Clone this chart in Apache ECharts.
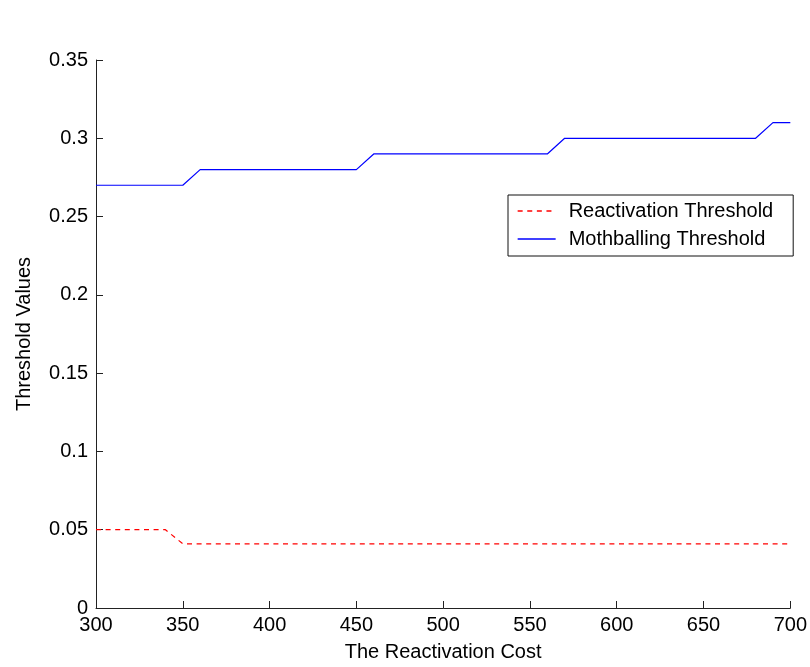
<!DOCTYPE html>
<html><head><meta charset="utf-8">
<script src="https://cdn.jsdelivr.net/npm/echarts@6/dist/echarts.min.js"></script>
<style>html,body{margin:0;padding:0;background:#fff}#c{width:810px;height:667px}</style>
</head><body><div id="c"></div>
<script>
const costs = [300,310,320,330,340,350,360,370,380,390,400,410,420,430,440,450,460,470,480,490,500,510,520,530,540,550,560,570,580,590,600,610,620,630,640,650,660,670,680,690,700];
const reactivation = [0.05,0.05,0.05,0.05,0.05,0.041,0.041,0.041,0.041,0.041,0.041,0.041,0.041,0.041,0.041,0.041,0.041,0.041,0.041,0.041,0.041,0.041,0.041,0.041,0.041,0.041,0.041,0.041,0.041,0.041,0.041,0.041,0.041,0.041,0.041,0.041,0.041,0.041,0.041,0.041,0.041];
const mothballing = [0.27,0.27,0.27,0.27,0.27,0.27,0.28,0.28,0.28,0.28,0.28,0.28,0.28,0.28,0.28,0.28,0.29,0.29,0.29,0.29,0.29,0.29,0.29,0.29,0.29,0.29,0.29,0.30,0.30,0.30,0.30,0.30,0.30,0.30,0.30,0.30,0.30,0.30,0.30,0.31,0.31];
const xTicks = [300,350,400,450,500,550,600,650,700];
const yTicks = [0,0.05,0.1,0.15,0.2,0.25,0.3,0.35];

const font = 'Liberation Sans, Arial, sans-serif';
const chart = echarts.init(document.getElementById('c'), null, {renderer:'canvas'});
chart.setOption({
  animation:false,
  backgroundColor:'#fff',
  grid:{left:96,right:17,top:60,bottom:59,containLabel:false},
  legend:{
    left:508,top:195,orient:'vertical',
    backgroundColor:'#fff',borderColor:'#111',borderWidth:1,
    padding:[6,20,7,9],itemGap:8,itemWidth:38,itemHeight:12,
    itemStyle:{opacity:0},
    lineStyle:{width:1.3},
    textStyle:{fontFamily:font,fontSize:20,color:'#000',padding:[0,0,0,8]},
    data:['Reactivation Threshold','Mothballing Threshold']
  },
  xAxis:{
    type:'value',min:300,max:700,interval:50,
    name:'The Reactivation Cost',nameLocation:'middle',nameGap:34,
    nameTextStyle:{fontFamily:font,fontSize:20,color:'#000'},
    axisLine:{show:true,lineStyle:{color:'#222',width:1}},
    axisTick:{show:true,inside:true,length:7,lineStyle:{color:'#222'}},
    axisLabel:{fontFamily:font,fontSize:20,color:'#000',margin:7,
      formatter:v=>xTicks.includes(v)?String(v):''},
    splitLine:{show:false}
  },
  yAxis:{
    type:'value',min:0,max:0.35,interval:0.05,
    name:'Threshold Values',nameLocation:'middle',nameGap:62,nameRotate:90,
    nameTextStyle:{fontFamily:font,fontSize:20,color:'#000'},
    axisLine:{show:true,lineStyle:{color:'#222',width:1}},
    axisTick:{show:true,inside:true,length:7,lineStyle:{color:'#222'}},
    axisLabel:{fontFamily:font,fontSize:20,color:'#000',margin:8,
      formatter:v=>{const t=yTicks.find(a=>Math.abs(a-v)<1e-9);return t===undefined?'':String(t);}},
    splitLine:{show:false}
  },
  series:[
    {name:'Reactivation Threshold',type:'line',symbol:'none',
     data:costs.map((c,i)=>[c,reactivation[i]]),
     lineStyle:{color:'#ff0000',width:1.2,type:[5,4.6]},itemStyle:{color:'#ff0000'}},
    {name:'Mothballing Threshold',type:'line',symbol:'none',
     data:costs.map((c,i)=>[c,mothballing[i]]),
     lineStyle:{color:'#0000ff',width:1.2},itemStyle:{color:'#0000ff'}}
  ]
});
</script></body></html>
